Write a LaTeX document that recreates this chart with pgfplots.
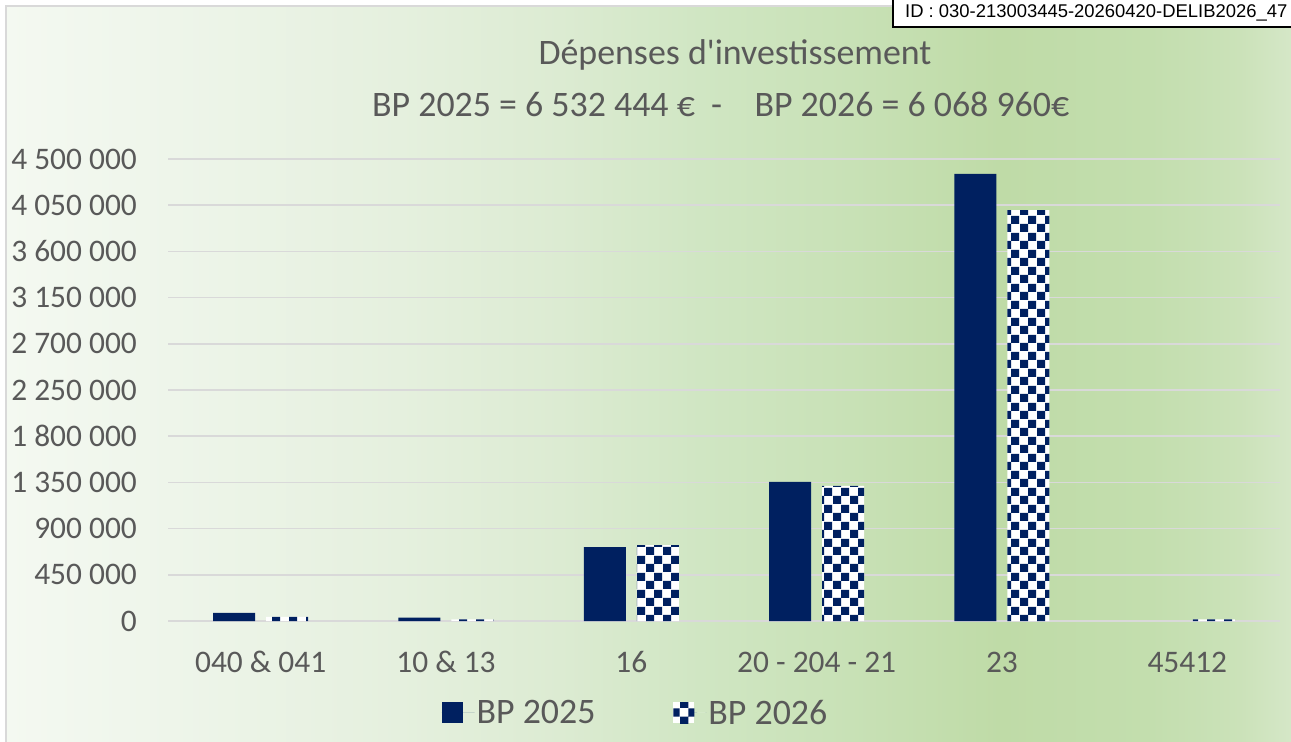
\documentclass[border=0pt]{standalone}
\usepackage{fontspec}
\setmainfont{Carlito}[Ligatures=TeXOff]
\newfontfamily\arialfont{Liberation Sans}
\usepackage{pgfplots}
\pgfplotsset{compat=1.18}
\usetikzlibrary{patterns}
\definecolor{navy}{HTML}{002060}
\definecolor{txt}{HTML}{595959}
\definecolor{gridc}{HTML}{D9D9D9}
\definecolor{g0}{HTML}{F4F9F1}
\definecolor{g1}{HTML}{EEF5EA}
\definecolor{g2}{HTML}{E5F0DE}
\definecolor{g3}{HTML}{DCEBD2}
\definecolor{g4}{HTML}{D0E6C3}
\definecolor{g5}{HTML}{C8E1B6}
\definecolor{g6}{HTML}{BFDBA7}
\definecolor{g7}{HTML}{C3DEAE}
\definecolor{g8}{HTML}{CBE2B9}
\definecolor{g9}{HTML}{D5E7C7}
\pgfdeclarepatternformonly{checker}{\pgfpointorigin}{\pgfqpoint{17bp}{17bp}}{\pgfqpoint{17bp}{17bp}}{%
  \pgfpathrectangle{\pgfpointorigin}{\pgfqpoint{8.5bp}{8.5bp}}%
  \pgfpathrectangle{\pgfqpoint{8.5bp}{8.5bp}}{\pgfqpoint{8.5bp}{8.5bp}}%
  \pgfusepath{fill}}
\pgfplotsset{legsq/.style={legend image code/.code={\path (0bp,0bp) -- (33bp,0bp);\fill[##1] (0bp,-10.5bp) rectangle (21bp,10.5bp);}}}
\begin{document}
\begin{tikzpicture}
\useasboundingbox (0,0) rectangle (1291bp,742bp);
\fill[white] (0,0) rectangle (1291bp,742bp);
\shade[left color=g0, right color=g1] (5bp,0) rectangle (170.5bp,736bp);
\shade[left color=g1, right color=g2] (170bp,0) rectangle (400.5bp,736bp);
\shade[left color=g2, right color=g3] (400bp,0) rectangle (560.5bp,736bp);
\shade[left color=g3, right color=g4] (560bp,0) rectangle (700.5bp,736bp);
\shade[left color=g4, right color=g5] (700bp,0) rectangle (850.5bp,736bp);
\shade[left color=g5, right color=g6] (850bp,0) rectangle (1000.5bp,736bp);
\shade[left color=g6, right color=g7] (1000bp,0) rectangle (1150.5bp,736bp);
\shade[left color=g7, right color=g8] (1150bp,0) rectangle (1240.5bp,736bp);
\shade[left color=g8, right color=g9] (1240bp,0) rectangle (1291bp,736bp);
\draw[gridc, line width=2bp] (5.5bp,0) -- (5.5bp,735.5bp) -- (1291bp,735.5bp);
% title
\node[anchor=base, text=txt, font=\fontsize{36}{40}\selectfont, inner sep=0pt] at (735bp,677bp) {Dépenses d'investissement};
\node[anchor=base west, text=txt, font=\fontsize{36}{40}\selectfont, inner sep=0pt] at (372bp,625bp) {BP 2025 = 6 532 444 €\ \ -\ \ \ \ BP 2026 = 6 068 960€};
\begin{axis}[
  at={(168bp,121bp)}, anchor=south west,
  scale only axis, width=1112bp, height=462bp,
  xmin=-0.5, xmax=5.5, ymin=0, ymax=4500000,
  ybar=11bp, bar width=42bp,
  xtick={0,1,2,3,4,5},
  xticklabels={040 \& 041,10 \& 13,16,20 - 204 - 21,23,45412},
  ytick={0,450000,900000,1350000,1800000,2250000,2700000,3150000,3600000,4050000,4500000},
  yticklabels={0,450 000,900 000,1 350 000,1 800 000,2 250 000,2 700 000,3 150 000,3 600 000,4 050 000,4 500 000},
  scaled y ticks=false,
  ymajorgrids, grid style={gridc, line width=1.5bp},
  axis line style={draw=none}, major tick length=0pt,
  tick label style={font=\fontsize{31.5}{36}\selectfont, text=txt},
  yticklabel style={anchor=base east, inner sep=0pt, xshift=-31bp, yshift=-10bp},
  xticklabel style={anchor=base, inner sep=0pt, yshift=-51bp},
  legend columns=2,
  legend style={at={(0.4204,-0.199)}, anchor=center, draw=none, fill=none,
    font=\fontsize{36}{40}\selectfont, text=txt,
    /tikz/every even column/.append style={column sep=76bp}},
  clip=false,
]
\addplot[fill=navy, draw=none, legsq]
  coordinates {(0,78000) (1,34000) (2,720000) (3,1354000) (4,4354000)};
\addlegendentry{BP 2025}
\addplot[fill=white, draw=none, postaction={pattern=checker, pattern color=navy}, legsq]
  coordinates {(0,39000) (1,15000) (2,740000) (3,1315000) (4,4003000) (5,15000)};
\addlegendentry{BP 2026}
\end{axis}
% ID stamp
\fill[white] (893bp,715bp) rectangle (1300bp,745bp);
\draw[black, line width=2.5bp] (893bp,745bp) -- (893bp,715bp) -- (1300bp,715bp);
\node[anchor=base west, inner sep=0pt, font=\arialfont\fontsize{18.5}{20}\selectfont] at (905bp,724bp) {ID : 030-213003445-20260420-DELIB2026\_47};
\end{tikzpicture}
\end{document}
